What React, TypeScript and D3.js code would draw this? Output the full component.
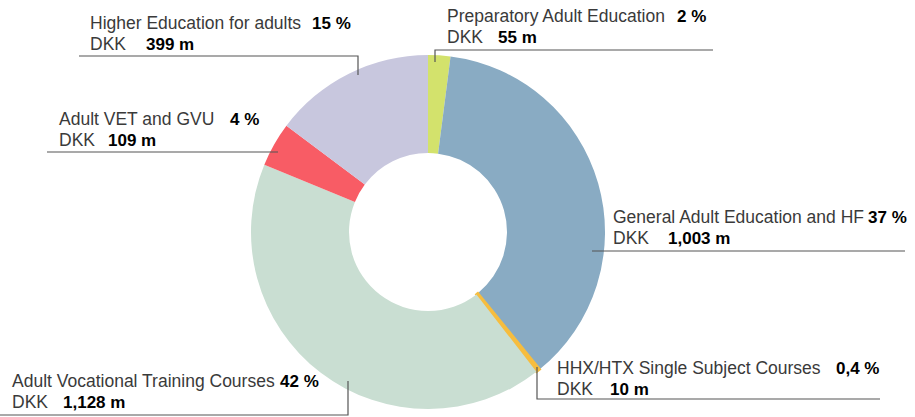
import React from "react";
import * as d3 from "d3";

const categories = [
  "Preparatory Adult Education",
  "General Adult Education and HF",
  "HHX/HTX Single Subject Courses",
  "Adult Vocational Training Courses",
  "Adult VET and GVU",
  "Higher Education for adults",
];
const amounts = [55, 1003, 10, 1128, 109, 399];
const percentLabels = ["2 %", "37 %", "0,4 %", "42 %", "4 %", "15 %"];
const amountLabels = ["55 m", "1,003 m", "10 m", "1,128 m", "109 m", "399 m"];
const colors = ["#d3e26c", "#89abc3", "#f6bd3f", "#c9ded2", "#f85c65", "#c8c7de"];

type Lab = {
  tx: number; ty: number; px: number; ax: number;
  line: [number, number][];
};
const labels: Lab[] = [
  { tx: 447, ty: 22, px: 677, ax: 498, line: [[435, 62], [435, 50], [713, 50]] },
  { tx: 613, ty: 223, px: 868, ax: 668, line: [[592, 251], [905, 251]] },
  { tx: 557, ty: 374, px: 836, ax: 610, line: [[537, 367], [537, 399], [880, 399]] },
  { tx: 12, ty: 387, px: 280, ax: 63, line: [[348, 381], [348, 415], [0, 415]] },
  { tx: 59, ty: 125, px: 230, ax: 108, line: [[278, 152], [47, 152]] },
  { tx: 90, ty: 29, px: 312, ax: 146, line: [[358, 75], [358, 56], [79, 56]] },
];

export default function App() {
  const cx = 428;
  const cy = 232;
  const R = 177;
  const r = 79;
  const pie = d3.pie<number>().sort(null).startAngle(0).endAngle(2 * Math.PI);
  const arcs = pie(amounts);
  const arcGen = d3.arc<d3.PieArcDatum<number>>().innerRadius(r).outerRadius(R);
  const lineGen = d3.line();
  return (
    <svg
      width={915}
      height={417}
      style={{ position: "absolute", left: 0, top: 0, background: "#fff" }}
      fontFamily="'Liberation Sans', Arial, sans-serif"
    >
      <g transform={`translate(${cx},${cy})`}>
        {arcs.map((a, i) => (
          <path
            key={i}
            d={arcGen(a) || ""}
            fill={colors[i]}
            stroke={i === 2 ? colors[i] : "none"}
            strokeWidth={i === 2 ? 2.5 : 0}
          />
        ))}
      </g>
      {labels.map((l, i) => (
        <g key={i}>
          <path d={lineGen(l.line) || ""} fill="none" stroke="#555" strokeWidth={1.2} />
          <text x={l.tx} y={l.ty} fontSize={17.5} fill="#3a3a3a">{categories[i]}</text>
          <text x={l.px} y={l.ty} fontSize={17} fontWeight="bold" fill="#000">{percentLabels[i]}</text>
          <text x={l.tx} y={l.ty + 21} fontSize={17.5} fill="#3a3a3a">DKK</text>
          <text x={l.ax} y={l.ty + 21} fontSize={17} fontWeight="bold" fill="#000">{amountLabels[i]}</text>
        </g>
      ))}
    </svg>
  );
}
